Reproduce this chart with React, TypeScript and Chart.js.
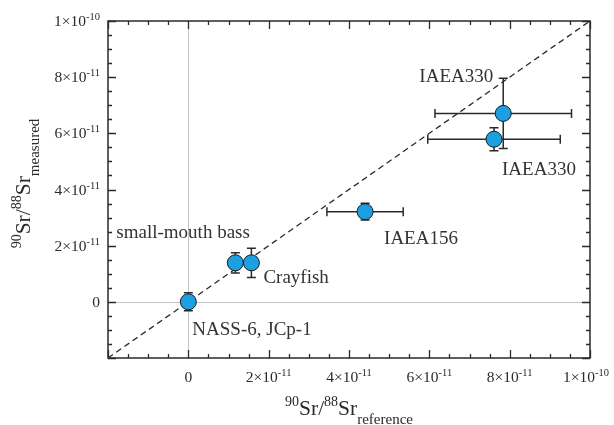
import React, { useEffect, useRef } from "react";
import { Chart, registerables } from "chart.js";

Chart.register(...registerables);

// ---- data ----
const sampleNames = ["NASS-6, JCp-1", "small-mouth bass", "Crayfish", "IAEA156", "IAEA330", "IAEA330"];
const refValues = [0, 1.17e-11, 1.57e-11, 4.4e-11, 7.84e-11, 7.61e-11];
const measValues = [0, 1.39e-11, 1.39e-11, 3.21e-11, 6.71e-11, 5.79e-11];
const refErrors = [0, 0, 0, 0.95e-11, 1.7e-11, 1.65e-11];
const measErrors = [0.32e-11, 0.36e-11, 0.52e-11, 0.3e-11, 1.25e-11, 0.41e-11];

const axisMin = -2e-11;
const axisMax = 1e-10;
const majorStep = 2e-11;
const minorStep = 0.5e-11;
const tickValues = [0, 2e-11, 4e-11, 6e-11, 8e-11, 1e-10];
const tickMantissas = ["0", "2×10", "4×10", "6×10", "8×10", "1×10"];
const tickExponents = ["", "-11", "-11", "-11", "-11", "-10"];

// label placement relative to each point (pixels)
const labelStyle = [
  { dx: 4, dy: 33, align: "left" },
  { dx: -119, dy: -25, align: "left" },
  { dx: 12, dy: 20, align: "left" },
  { dx: 19, dy: 32, align: "left" },
  { dx: -10, dy: -31, align: "right" },
  { dx: 8, dy: 36, align: "left" },
];

const SERIF = '"Liberation Serif", "Times New Roman", serif';
const INK = "#2a2a2a";

function drawRich(ctx: CanvasRenderingContext2D, parts: { t: string; size: number; dy: number }[], x: number, y: number, align: "left" | "center" | "right") {
  let total = 0;
  const widths = parts.map((p) => {
    ctx.font = `${p.size}px ${SERIF}`;
    const w = ctx.measureText(p.t).width;
    total += w;
    return w;
  });
  let cx = align === "left" ? x : align === "center" ? x - total / 2 : x - total;
  ctx.textAlign = "left";
  ctx.textBaseline = "alphabetic";
  parts.forEach((p, i) => {
    ctx.font = `${p.size}px ${SERIF}`;
    ctx.fillText(p.t, cx, y + p.dy);
    cx += widths[i];
  });
}

const framePlugin = {
  id: "framePlugin",
  beforeDatasetsDraw(chart: any) {
    const { ctx, chartArea: a, scales } = chart;
    const x0 = Math.round(scales.x.getPixelForValue(0)) + 0.5;
    const y0 = Math.round(scales.y.getPixelForValue(0)) + 0.5;
    ctx.save();
    ctx.strokeStyle = "#c4c4c4";
    ctx.lineWidth = 1;
    ctx.beginPath();
    ctx.moveTo(x0, a.top);
    ctx.lineTo(x0, a.bottom);
    ctx.moveTo(a.left, y0);
    ctx.lineTo(a.right, y0);
    ctx.stroke();
    ctx.restore();
  },
  beforeDatasetDraw(chart: any, args: any) {
    if (args.index !== 0) return;
    const { ctx, scales } = chart;
    const cap = 4.5;
    ctx.save();
    ctx.strokeStyle = INK;
    ctx.lineWidth = 1.5;
    refValues.forEach((xv, i) => {
      const px = scales.x.getPixelForValue(xv);
      const py = scales.y.getPixelForValue(measValues[i]);
      ctx.beginPath();
      if (measErrors[i] > 0) {
        const t = scales.y.getPixelForValue(measValues[i] + measErrors[i]);
        const b = scales.y.getPixelForValue(measValues[i] - measErrors[i]);
        ctx.moveTo(px, t);
        ctx.lineTo(px, b);
        ctx.moveTo(px - cap, t);
        ctx.lineTo(px + cap, t);
        ctx.moveTo(px - cap, b);
        ctx.lineTo(px + cap, b);
      }
      if (refErrors[i] > 0) {
        const l = scales.x.getPixelForValue(xv - refErrors[i]);
        const r = scales.x.getPixelForValue(xv + refErrors[i]);
        ctx.moveTo(l, py);
        ctx.lineTo(r, py);
        ctx.moveTo(l, py - cap);
        ctx.lineTo(l, py + cap);
        ctx.moveTo(r, py - cap);
        ctx.lineTo(r, py + cap);
      }
      ctx.stroke();
    });
    ctx.restore();
  },
  afterDraw(chart: any) {
    const { ctx, chartArea: a, scales } = chart;
    ctx.save();
    // frame
    ctx.strokeStyle = INK;
    ctx.lineWidth = 1.5;
    ctx.strokeRect(a.left, a.top, a.right - a.left, a.bottom - a.top);
    // ticks
    ctx.lineWidth = 1.3;
    ctx.beginPath();
    const n = Math.round((axisMax - axisMin) / minorStep);
    for (let k = 0; k <= n; k++) {
      const v = axisMin + k * minorStep;
      const major = k % Math.round(majorStep / minorStep) === 0;
      const len = major ? 8 : 4;
      const px = Math.round(scales.x.getPixelForValue(v)) + 0.5;
      const py = Math.round(scales.y.getPixelForValue(v)) + 0.5;
      ctx.moveTo(px, a.bottom);
      ctx.lineTo(px, a.bottom - len);
      ctx.moveTo(px, a.top);
      ctx.lineTo(px, a.top + len);
      ctx.moveTo(a.left, py);
      ctx.lineTo(a.left + len, py);
      ctx.moveTo(a.right, py);
      ctx.lineTo(a.right - len, py);
    }
    ctx.stroke();
    // tick labels
    ctx.fillStyle = INK;
    tickValues.forEach((v, i) => {
      const parts = [
        { t: tickMantissas[i], size: 15.5, dy: 0 },
        { t: tickExponents[i], size: 10.5, dy: -6 },
      ];
      drawRich(ctx, parts, scales.x.getPixelForValue(v) - (i === tickValues.length - 1 ? 4 : 0), a.bottom + 24, "center");
      drawRich(ctx, parts, a.left - 8, scales.y.getPixelForValue(v) + 5, "right");
    });
    // axis titles
    const title = (sub: string) => [
      { t: "90", size: 14, dy: -9 },
      { t: "Sr/", size: 21.5, dy: 0 },
      { t: "88", size: 14, dy: -9 },
      { t: "Sr", size: 21.5, dy: 0 },
      { t: sub, size: 15, dy: 9 },
    ];
    drawRich(ctx, title("reference"), (a.left + a.right) / 2, 415, "center");
    ctx.save();
    ctx.translate(30, (a.top + a.bottom) / 2 - 6);
    ctx.rotate(-Math.PI / 2);
    drawRich(ctx, title("measured"), 0, 0, "center");
    ctx.restore();
    // point labels
    ctx.font = `19px ${SERIF}`;
    ctx.fillStyle = "#333";
    ctx.textBaseline = "alphabetic";
    sampleNames.forEach((name, i) => {
      const px = scales.x.getPixelForValue(refValues[i]);
      const py = scales.y.getPixelForValue(measValues[i]);
      const s = labelStyle[i];
      ctx.textAlign = s.align as CanvasTextAlign;
      ctx.fillText(name, px + s.dx, py + s.dy);
    });
    ctx.restore();
  },
};

export default function App() {
  const ref = useRef<HTMLCanvasElement | null>(null);
  useEffect(() => {
    document.body.style.margin = "0";
    const canvas = ref.current;
    if (!canvas) return;
    const chart = new Chart(canvas, {
      type: "scatter",
      data: {
        datasets: [
          {
            type: "scatter",
            data: refValues.map((x, i) => ({ x, y: measValues[i] })),
            backgroundColor: "rgb(28,160,226)",
            borderColor: "#1a1a1a",
            borderWidth: 1,
            pointRadius: 8,
            pointHoverRadius: 8,
          },
          {
            type: "line",
            data: [
              { x: axisMin, y: axisMin },
              { x: axisMax, y: axisMax },
            ],
            borderColor: INK,
            borderWidth: 1.3,
            borderDash: [6, 4],
            pointRadius: 0,
            fill: false,
          },
        ],
      } as any,
      options: {
        animation: false,
        responsive: false,
        maintainAspectRatio: false,
        devicePixelRatio: 1,
        layout: { padding: { top: 21, right: 24, left: 0, bottom: 0 } },
        plugins: { legend: { display: false }, tooltip: { enabled: false } },
        scales: {
          x: {
            type: "linear",
            min: axisMin,
            max: axisMax,
            grid: { display: false },
            border: { display: false },
            ticks: { display: false },
            afterFit: (s: any) => {
              s.height = 67;
            },
          },
          y: {
            type: "linear",
            min: axisMin,
            max: axisMax,
            grid: { display: false },
            border: { display: false },
            ticks: { display: false },
            afterFit: (s: any) => {
              s.width = 108;
            },
          },
        },
      } as any,
      plugins: [framePlugin],
    });
    return () => chart.destroy();
  }, []);
  return (
    <div style={{ width: 614, height: 425, background: "#fff" }}>
      <canvas ref={ref} width={614} height={425} />
    </div>
  );
}
